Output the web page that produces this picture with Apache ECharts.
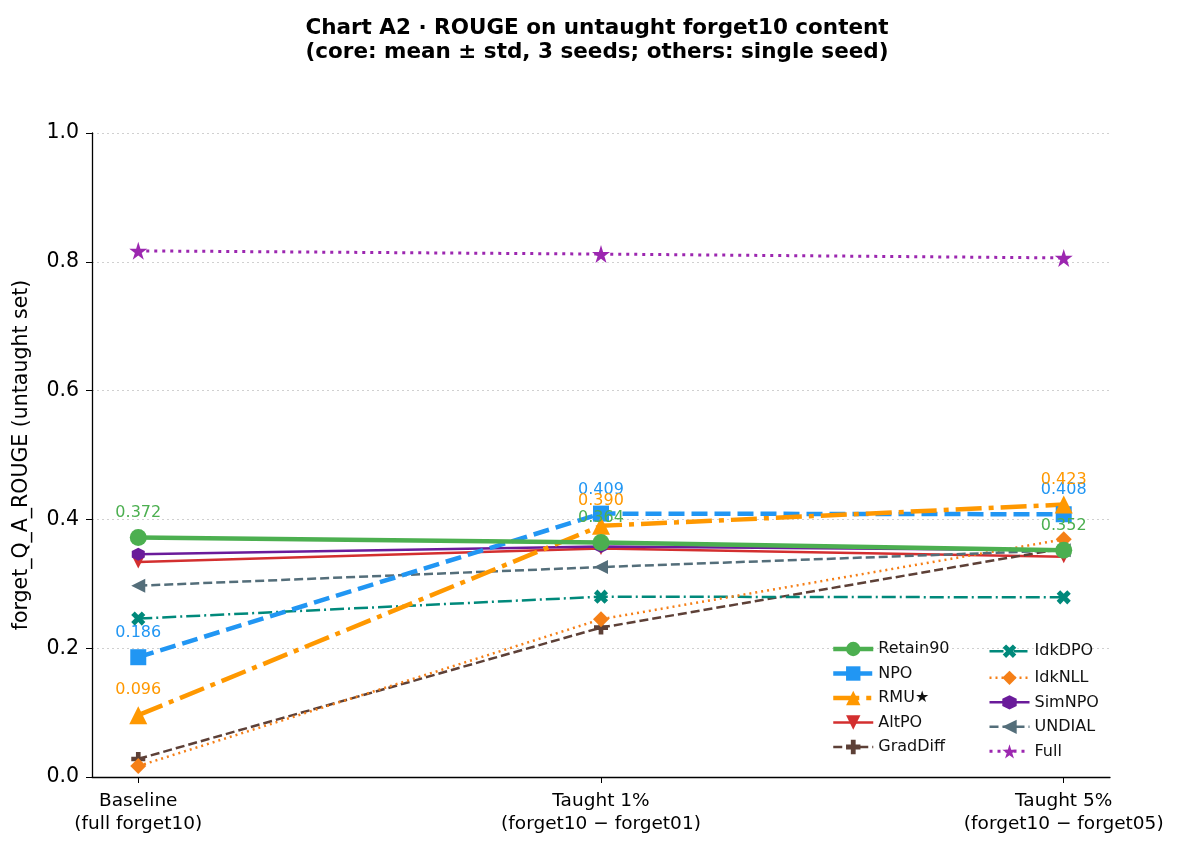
<!DOCTYPE html>
<html>
<head>
<meta charset="utf-8">
<script src="https://cdn.jsdelivr.net/npm/echarts@6/dist/echarts.min.js"></script>
<style>
  html, body { margin: 0; padding: 0; background: #fff; }
  #chart { width: 1180px; height: 848px; }
</style>
</head>
<body>
<div id="chart"></div>
<script>
// x positions: 0 = Baseline, 1 = Taught 1%, 2 = Taught 5%
const stages = ['Baseline\n(full forget10)', 'Taught 1%\n(forget10 \u2212 forget01)', 'Taught 5%\n(forget10 \u2212 forget05)'];

const retain90 = [0.372, 0.364, 0.352];
const npo = [0.186, 0.409, 0.408];
const rmu = [0.096, 0.390, 0.423];
const altpo = [0.334, 0.355, 0.342];
const gradDiff = [0.028, 0.232, 0.355];
const idkDpo = [0.246, 0.280, 0.279];
const idkNll = [0.017, 0.245, 0.369];
const simNpo = [0.346, 0.358, 0.352];
const undial = [0.297, 0.326, 0.352];
const full = [0.817, 0.812, 0.806];

const SYM = {
    plus: 'path://M-1,-3H1V-1H3V1H1V3H-1V1H-3V-1H-1Z',
    hex: 'path://M0,-1L0.866,-0.5L0.866,0.5L0,1L-0.866,0.5L-0.866,-0.5Z',
    star: 'path://M0,-1L0.2245,-0.309L0.951,-0.309L0.363,0.118L0.588,0.809L0,0.382L-0.588,0.809L-0.363,0.118L-0.951,-0.309L-0.2245,-0.309Z',
    left: 'path://M-1,0L1,-1L1,1Z',
    down: 'path://M-1,-1L1,-1L0,1Z',
    up: 'path://M0,-1L1,1L-1,1Z',
    diamond: 'path://M0,-1L1,0L0,1L-1,0Z'
};

function pts(vals) {
    return vals.map((v, i) => [i, v]);
}

const legendItems = [];

function makeSeries(name, vals, color, opts) {
    const s = {
        name: name,
        type: 'line',
        data: pts(vals),
        symbol: opts.symbol,
        symbolSize: opts.size,
        symbolRotate: opts.rotate || 0,
        z: opts.z || 2,
        itemStyle: { color: color },
        lineStyle: { color: color, width: opts.width, type: opts.dash || 'solid' },
        emphasis: { disabled: true },
        animation: false
    };
    if (opts.labels) {
        s.label = {
            show: true,
            position: 'top',
            distance: 8,
            color: color,
            fontSize: 16,
            fontFamily: 'DejaVu Sans',
            formatter: p => p.value[1].toFixed(3)
        };
    }
    legendItems.push({
        name: name,
        itemStyle: { color: color },
        lineStyle: { color: color, width: opts.width, type: opts.dash || 'solid' }
    });
    return s;
}

const series = [
    makeSeries('Retain90', retain90, '#4caf50', { symbol: 'circle', size: 17, width: 4.5, labels: true, z: 5 }),
    makeSeries('NPO', npo, '#2196f3', { symbol: 'rect', size: 16, width: 4.5, dash: [16, 7], labels: true, z: 4 }),
    makeSeries('RMU\u2605', rmu, '#ff9800', { symbol: SYM.up, size: 18, width: 4.5, dash: [26, 7, 5, 7], labels: true, z: 4 }),
    makeSeries('AltPO', altpo, '#d32f2f', { symbol: SYM.down, size: 13, width: 2.5 }),
    makeSeries('GradDiff', gradDiff, '#5d4037', { symbol: SYM.plus, size: 14, width: 2.5, dash: [9, 4] }),
    makeSeries('IdkDPO', idkDpo, '#00897b', { symbol: SYM.plus, size: 15, rotate: 45, width: 2.5, dash: [14, 4, 2, 4] }),
    makeSeries('IdkNLL', idkNll, '#f57f17', { symbol: SYM.diamond, size: 16, width: 2.5, dash: [2, 4] }),
    makeSeries('SimNPO', simNpo, '#6a1b9a', { symbol: SYM.hex, size: 13, width: 2.5 }),
    makeSeries('UNDIAL', undial, '#546e7a', { symbol: SYM.left, size: 14, width: 2.5, dash: [9, 4] }),
    makeSeries('Full', full, '#9c27b0', { symbol: SYM.star, size: 18, width: 3, dash: [3, 5] })
];

const legendText = { fontSize: 16, fontFamily: 'DejaVu Sans', color: '#111' };

const chart = echarts.init(document.getElementById('chart'), null, { renderer: 'canvas' });
chart.setOption({
    backgroundColor: '#fff',
    animation: false,
    title: {
        text: 'Chart A2 \u00b7 ROUGE on untaught forget10 content\n(core: mean \u00b1 std, 3 seeds; others: single seed)',
        left: 592,
        textAlign: 'center',
        top: 11,
        textStyle: { fontSize: 21.5, fontWeight: 'bold', fontFamily: 'DejaVu Sans', color: '#000', lineHeight: 24 }
    },
    grid: { left: 92, right: 70, top: 133, bottom: 71, containLabel: false },
    legend: [
        {
            data: legendItems.slice(0, 5),
            orient: 'vertical',
            left: 826,
            top: 637,
            itemWidth: 40,
            itemHeight: 18,
            itemGap: 8,
            height: 140,
            textStyle: legendText
        },
        {
            data: legendItems.slice(5),
            orient: 'vertical',
            left: 983,
            top: 637,
            itemWidth: 40,
            itemHeight: 18,
            itemGap: 8,
            height: 140,
            textStyle: legendText
        }
    ].map(l => Object.assign(l, { itemGap: 8.5, top: 636 })),
    xAxis: {
        type: 'value',
        min: -0.1,
        max: 2.1,
        axisLine: { show: true, lineStyle: { color: '#000', width: 1.3 } },
        axisTick: { show: true, customValues: [0, 1, 2], length: 6, lineStyle: { color: '#000' } },
        axisLabel: {
            customValues: [0, 1, 2],
            formatter: v => stages[Math.round(v)],
            fontSize: 18.5,
            fontFamily: 'DejaVu Sans',
            color: '#000',
            lineHeight: 23,
            margin: 13
        },
        splitLine: { show: false }
    },
    yAxis: {
        type: 'value',
        min: 0,
        max: 1,
        interval: 0.2,
        name: 'forget_Q_A_ROUGE (untaught set)',
        nameLocation: 'middle',
        nameGap: 60,
        nameTextStyle: { fontSize: 20.5, fontFamily: 'DejaVu Sans', color: '#000' },
        axisLine: { show: true, onZero: false, lineStyle: { color: '#000', width: 1.3 } },
        axisTick: { show: true, length: 6, lineStyle: { color: '#000' } },
        axisLabel: {
            formatter: v => v.toFixed(1),
            fontSize: 20.5,
            fontFamily: 'DejaVu Sans',
            color: '#000',
            margin: 13
        },
        splitLine: { show: true, lineStyle: { color: '#d0d0d0', type: [2, 3], width: 1 } }
    },
    series: series
});
</script>
</body>
</html>
